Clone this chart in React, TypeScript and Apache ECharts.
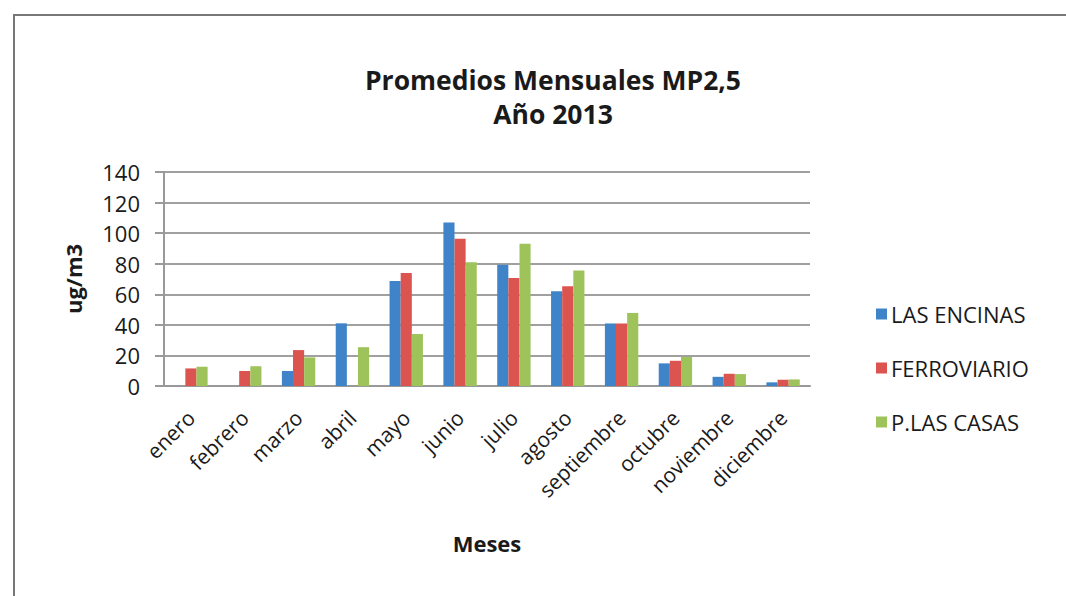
import React, { useEffect, useRef } from "react";
import * as echarts from "echarts";

const months = ["enero", "febrero", "marzo", "abril", "mayo", "junio", "julio", "agosto", "septiembre", "octubre", "noviembre", "diciembre"];
const lasEncinas = [null, null, 9.8, 41, 68.7, 107, 79.3, 62, 40.9, 14.8, 6, 2.4];
const ferroviario = [11.5, 9.8, 23.5, null, 74, 96.3, 70.7, 65.2, 40.9, 16.5, 8, 4.1];
const pLasCasas = [12.6, 13, 18.7, 25.4, 34, 81, 93, 75.6, 47.8, 19, 7.8, 4.3];
const seriesNames = ["LAS ENCINAS", "FERROVIARIO", "P.LAS CASAS"];
const colors = ["#3F84C8", "#DB5450", "#9FC35B"];

const FONT = "Open Sans";

export default function App() {
  const ref = useRef<HTMLDivElement>(null);
  useEffect(() => {
    if (!ref.current) return;
    const chart = echarts.init(ref.current, null, { renderer: "svg" });
    const data = [lasEncinas, ferroviario, pLasCasas];
    chart.setOption({
      animation: false,
      backgroundColor: "#ffffff",
      textStyle: { fontFamily: FONT },
      title: {
        text: "Promedios Mensuales MP2,5\nAño 2013",
        left: 548,
        top: 58,
        textAlign: "center",
        textStyle: { fontFamily: FONT, fontSize: 26.5, fontWeight: "bold", color: "#1a1a1a", lineHeight: 34 },
      },
      graphic: [
        {
          type: "rect",
          shape: { x: 14, y: 15, width: 1200, height: 800 },
          style: { fill: "none", stroke: "#777", lineWidth: 2 },
          silent: true,
        },
      ],
      legend: {
        orient: "vertical",
        left: 871,
        top: 297,
        itemWidth: 11,
        itemHeight: 11,
        itemGap: 30,
        icon: "rect",
        data: seriesNames,
        textStyle: { fontFamily: FONT, fontSize: 22, lineHeight: 24, color: "#1a1a1a", padding: [0, 0, 0, -1] },
      },
      grid: { left: 164, top: 172, width: 646, height: 214, containLabel: false },
      xAxis: {
        type: "category",
        data: months,
        name: "Meses",
        nameLocation: "middle",
        nameGap: 146,
        nameTextStyle: { fontFamily: FONT, fontSize: 22, fontWeight: "bold", color: "#1a1a1a" },
        axisLine: { lineStyle: { color: "#999", width: 2 } },
        axisTick: { show: false },
        axisLabel: { rotate: 45, margin: 28, fontFamily: FONT, fontSize: 21, color: "#1a1a1a", interval: 0 },
      },
      yAxis: {
        type: "value",
        min: 0,
        max: 140,
        interval: 20,
        name: "ug/m3",
        nameLocation: "middle",
        nameGap: 80,
        nameTextStyle: { fontFamily: FONT, fontSize: 22, fontWeight: "bold", color: "#1a1a1a" },
        axisLine: { show: true, lineStyle: { color: "#999", width: 2 } },
        axisTick: { show: true, length: 9, lineStyle: { color: "#999", width: 2 } },
        axisLabel: { margin: 24, fontFamily: FONT, fontSize: 22, color: "#1a1a1a" },
        splitLine: { lineStyle: { color: "#a0a0a0", width: 2 } },
      },
      series: seriesNames.map((name, i) => ({
        name,
        type: "bar",
        data: data[i],
        itemStyle: { color: colors[i] },
        barGap: "0%",
        barCategoryGap: "38%",
      })),
    });
    return () => chart.dispose();
  }, []);
  return <div ref={ref} style={{ position: "fixed", left: 0, top: 0, width: 1066, height: 596 }} />;
}
